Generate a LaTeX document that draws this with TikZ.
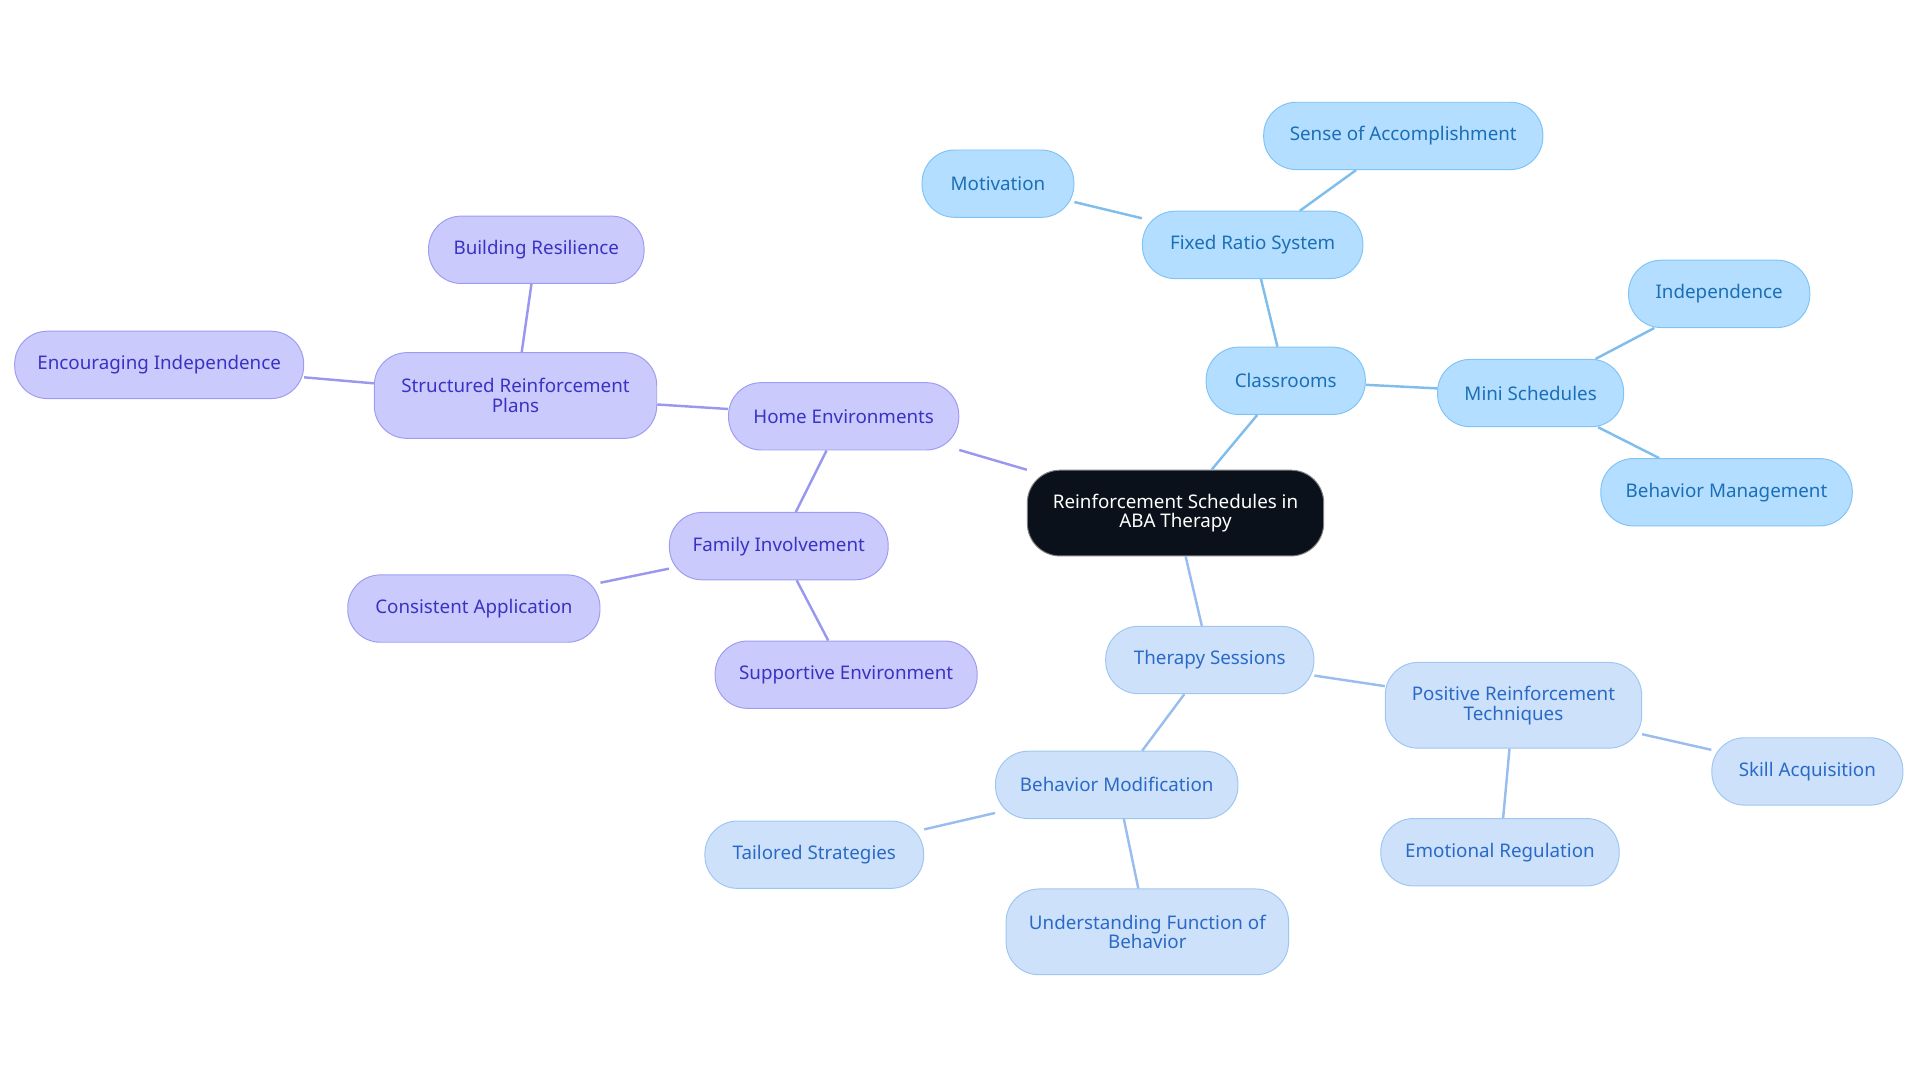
\documentclass[tikz,border=0pt]{standalone}
\usepackage{fontspec}
\setmainfont{Noto Sans}
\begin{document}
\begin{tikzpicture}[x=0.75pt,y=-0.75pt,
 base/.style={draw,rounded corners=20pt,minimum height=41.25pt,align=center,font=\fontsize{11.5}{12}\selectfont,line width=0.6pt,inner sep=0pt},
 cl/.style={base,fill=cA,draw=cAd,text=cAt},
 th/.style={base,fill=cB,draw=cBd,text=cBt},
 hm/.style={base,fill=cC,draw=cCd,text=cCt},
 la/.style={cAl,line width=1.5pt},
 lb/.style={cBl,line width=1.5pt},
 lc/.style={cCl,line width=1.5pt}]
\definecolor{cA}{HTML}{B3DEFF}\definecolor{cAd}{HTML}{80C4F5}\definecolor{cAt}{HTML}{1B6FB6}\definecolor{cAl}{HTML}{7EBDEC}
\definecolor{cB}{HTML}{CDE2FA}\definecolor{cBd}{HTML}{9FC6F0}\definecolor{cBt}{HTML}{2A6AC6}\definecolor{cBl}{HTML}{99BDEE}
\definecolor{cC}{HTML}{CACBFC}\definecolor{cCd}{HTML}{9E9CF0}\definecolor{cCt}{HTML}{3A32C2}\definecolor{cCl}{HTML}{9A98EE}
\definecolor{root}{HTML}{0B111B}
\useasboundingbox (0,0) rectangle (1568,884);
\node[base,fill=root,draw=gray,text=white,minimum width=181.5pt,minimum height=52.5pt] (r) at (960,419) {Reinforcement Schedules in\\ABA Therapy};
\node[cl,minimum width=97.5pt] (c) at (1050,311) {Classrooms};
\node[cl,minimum width=135pt] (f) at (1023,200) {Fixed Ratio System};
\node[cl,minimum width=93pt] (mo) at (815,150) {Motivation};
\node[cl,minimum width=171pt] (sa) at (1146,111) {Sense of Accomplishment};
\node[cl,minimum width=114pt] (ms) at (1250,321) {Mini Schedules};
\node[cl,minimum width=111pt] (in) at (1404,240) {Independence};
\node[cl,minimum width=154pt] (bm) at (1410,402) {Behavior Management};
\node[th,minimum width=127.5pt] (t) at (988,539) {Therapy Sessions};
\node[th,minimum width=157pt,minimum height=52.5pt] (p) at (1236,576) {Positive Reinforcement\\Techniques};
\node[th,minimum width=117pt] (sk) at (1476,630) {Skill Acquisition};
\node[th,minimum width=146pt] (er) at (1225,696) {Emotional Regulation};
\node[th,minimum width=148.5pt] (bmo) at (912,641) {Behavior Modification};
\node[th,minimum width=134pt] (ts) at (665,698) {Tailored Strategies};
\node[th,minimum width=173pt,minimum height=52.5pt] (uf) at (937,761) {Understanding Function of\\Behavior};
\node[hm,minimum width=141pt] (h) at (689,340) {Home Environments};
\node[hm,minimum width=173pt,minimum height=52.5pt] (sr) at (421,323) {Structured Reinforcement\\Plans};
\node[hm,minimum width=132pt] (br) at (438,204) {Building Resilience};
\node[hm,minimum width=177pt] (ei) at (130,298) {Encouraging Independence};
\node[hm,minimum width=134pt] (fi) at (636,446) {Family Involvement};
\node[hm,minimum width=154.5pt] (ca) at (387,497) {Consistent Application};
\node[hm,minimum width=160.5pt] (se) at (691,551) {Supportive Environment};
\begin{scope}[on background layer/.try]
\end{scope}
\draw[la] (r) -- (c); \draw[la] (c) -- (f); \draw[la] (f) -- (mo); \draw[la] (f) -- (sa);
\draw[la] (c) -- (ms); \draw[la] (ms) -- (in); \draw[la] (ms) -- (bm);
\draw[lb] (r) -- (t); \draw[lb] (t) -- (p); \draw[lb] (p) -- (sk); \draw[lb] (p) -- (er);
\draw[lb] (t) -- (bmo); \draw[lb] (bmo) -- (ts); \draw[lb] (bmo) -- (uf);
\draw[lc] (r) -- (h); \draw[lc] (h) -- (sr); \draw[lc] (sr) -- (br); \draw[lc] (sr) -- (ei);
\draw[lc] (h) -- (fi); \draw[lc] (fi) -- (ca); \draw[lc] (fi) -- (se);
\end{tikzpicture}
\end{document}
